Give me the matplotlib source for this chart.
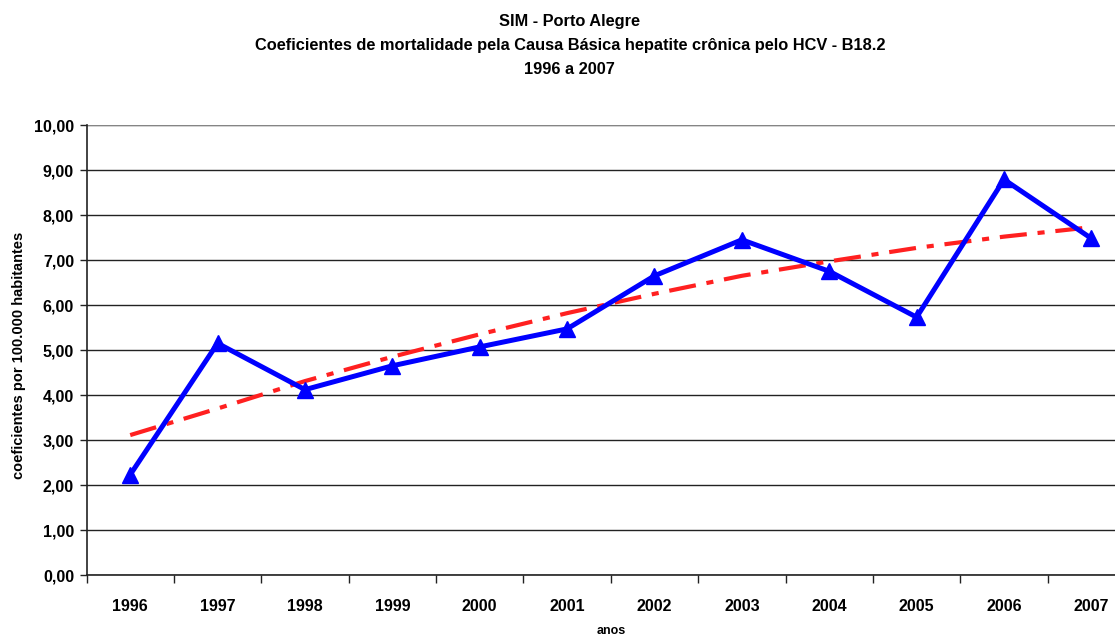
import numpy as np
import matplotlib.pyplot as plt
from matplotlib.ticker import FixedLocator, FuncFormatter

plt.rcParams['font.family'] = ['Liberation Sans', 'DejaVu Sans']
plt.rcParams['font.weight'] = 'bold'
plt.rcParams['axes.labelweight'] = 'bold'

anos = ['1996', '1997', '1998', '1999', '2000', '2001',
        '2002', '2003', '2004', '2005', '2006', '2007']
coeficientes = [2.23, 5.15, 4.12, 4.65, 5.07, 5.47,
                6.65, 7.45, 6.75, 5.73, 8.79, 7.48]
tendencia = [3.11, 3.70, 4.31, 4.85, 5.35, 5.82,
             6.25, 6.65, 6.97, 7.27, 7.52, 7.73]

fig = plt.figure(figsize=(11.15, 6.38), dpi=100)
ax = fig.add_axes([0.0776, 0.0987, 0.9404, 0.7053])

x = np.arange(len(anos))
ax.plot(x, tendencia, color='#ff2020', lw=3.0, dashes=(6.5, 2.6, 1.7, 2.6),
        solid_capstyle='butt', zorder=3)
ax.plot(x, coeficientes, color='#0000ff', lw=3.6, marker='^', markersize=12,
        zorder=4)

ax.set_xlim(-0.5, len(anos) - 0.5)
ax.set_ylim(0, 10)
ax.set_yticks(np.arange(0, 11, 1))
ax.yaxis.set_major_formatter(FuncFormatter(lambda v, p: f'{v:.2f}'.replace('.', ',')))
ax.set_xticks(x)
ax.set_xticklabels(anos)
ax.xaxis.set_minor_locator(FixedLocator(np.arange(-0.5, len(anos), 1)))

ax.tick_params(axis='x', which='major', length=0, pad=17, labelsize=11.5)
ax.tick_params(axis='x', which='minor', length=6, width=1, color='#222222')
ax.tick_params(axis='y', length=5, width=1, color='#222222', labelsize=11.5, pad=4)

ax.grid(axis='y', color='#222222', lw=1)
ax.set_axisbelow(True)
for side in ['top', 'right']:
    ax.spines[side].set_visible(False)
for side in ['left', 'bottom']:
    ax.spines[side].set_color('#222222')
    ax.spines[side].set_linewidth(1.2)
ax.axhline(10, color='#999999', lw=1.2, zorder=2)

ax.set_ylabel('coeficientes por 100.000 habitantes', fontsize=10.5)
ax.yaxis.set_label_coords(-0.0575, 0.489)
ax.set_xlabel('anos', fontsize=9, labelpad=8)

fig.text(0.511, 0.967, 'SIM - Porto Alegre', ha='center', va='center', fontsize=11.8)
fig.text(0.511, 0.929, 'Coeficientes de mortalidade pela Causa Básica hepatite crônica pelo HCV - B18.2',
         ha='center', va='center', fontsize=11.8)
fig.text(0.511, 0.891, '1996 a 2007', ha='center', va='center', fontsize=11.8)

fig.savefig('out.png', dpi=100)
